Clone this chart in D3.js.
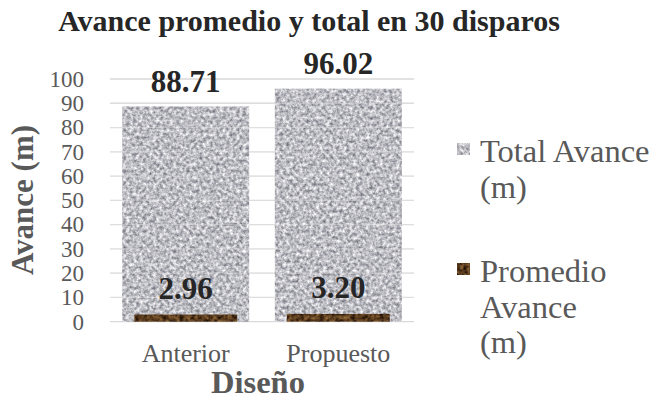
<!DOCTYPE html>
<html>
<head>
<meta charset="utf-8">
<script src="https://cdn.jsdelivr.net/npm/d3@7"></script>
<style>
  html, body { margin: 0; padding: 0; background: #fff; }
  svg { display: block; }
</style>
</head>
<body>
<svg id="chart" width="657" height="409" font-family="Liberation Serif"></svg>
<script>
// Data
const categories = ["Anterior", "Propuesto"];
const totalAvance = [88.71, 96.02];
const promedioAvance = [2.96, 3.20];
const yTicks = [0, 10, 20, 30, 40, 50, 60, 70, 80, 90, 100];
const seriesNames = [["Total Avance", "(m)"], ["Promedio", "Avance", "(m)"]];

const FONT = "Liberation Serif";
const svg = d3.select("#chart");
const plot = { left: 110, right: 414, top: 79, bottom: 321.7 };

// Textures: granite-grey and brown speckle
const defs = svg.append("defs");
function texture(id, freq, seed, rows) {
  const f = defs.append("filter").attr("id", id)
    .attr("x", 0).attr("y", 0).attr("width", 1).attr("height", 1)
    .attr("filterUnits", "objectBoundingBox")
    .attr("color-interpolation-filters", "sRGB");
  f.append("feTurbulence").attr("type", "fractalNoise")
    .attr("baseFrequency", freq).attr("numOctaves", 3).attr("seed", seed).attr("result", "n");
  f.append("feGaussianBlur").attr("in", "n").attr("stdDeviation", 0.5).attr("result", "b");
  f.append("feColorMatrix").attr("in", "b").attr("type", "matrix")
    .attr("values", rows).attr("result", "c");
  f.append("feComposite").attr("in", "c").attr("in2", "SourceGraphic").attr("operator", "in");
}
texture("granite", 0.3, 7,
  "0.8 0 0 0 0.34  0.8 0 0 0 0.34  0.75 0 0 0 0.39  0 0 0 0 1");
texture("bronze", 0.25, 11,
  "0.75 0 0 0 -0.03  0.6 0 0 0 -0.07  0.35 0 0 0 -0.06  0 0 0 0 1");

const x = d3.scaleBand().domain(categories)
  .range([plot.left, plot.right]).paddingInner(0.168).paddingOuter(0.08);
const y = d3.scaleLinear().domain([0, 100]).range([plot.bottom, plot.top]);

// Gridlines
svg.append("g").selectAll("line").data(yTicks).join("line")
  .attr("x1", plot.left).attr("x2", plot.right)
  .attr("y1", d => y(d)).attr("y2", d => y(d))
  .attr("stroke", "#d9d9d9").attr("stroke-width", 1.3);

// Y axis labels
const yAxis = d3.axisLeft(y).tickValues(yTicks).tickSize(0).tickPadding(0).tickFormat(d3.format("d"));
svg.append("g").attr("transform", "translate(84,0)").call(yAxis)
  .attr("font-family", FONT).attr("font-size", 23)
  .call(g => g.select(".domain").remove())
  .call(g => g.selectAll("text").attr("fill", "#595959"));

// Total bars
svg.append("g").selectAll("rect").data(categories).join("rect")
  .attr("x", d => x(d)).attr("width", x.bandwidth())
  .attr("y", (d, i) => y(totalAvance[i]))
  .attr("height", (d, i) => y(0) - y(totalAvance[i]))
  .attr("fill", "#bbb").attr("filter", "url(#granite)");

// Gridlines faintly visible over the bars
svg.append("g").selectAll("line").data(yTicks.slice(1)).join("line")
  .attr("x1", plot.left).attr("x2", plot.right)
  .attr("y1", d => y(d)).attr("y2", d => y(d))
  .attr("stroke", "#e8e8e8").attr("stroke-opacity", 0.4).attr("stroke-width", 1);

// Promedio bars (narrower, in front)
const innerW = x.bandwidth() * 0.81;
svg.append("g").selectAll("rect").data(categories).join("rect")
  .attr("x", d => x(d) + (x.bandwidth() - innerW) / 2).attr("width", innerW)
  .attr("y", (d, i) => y(promedioAvance[i]))
  .attr("height", (d, i) => y(0) - y(promedioAvance[i]))
  .attr("fill", "#532").attr("filter", "url(#bronze)");

// Value labels
const lab = svg.append("g").attr("text-anchor", "middle").attr("font-family", FONT)
  .attr("font-weight", "bold").attr("font-size", 31).attr("fill", "#262626");
lab.selectAll("text.t").data(categories).join("text").attr("class", "t")
  .attr("x", d => x(d) + x.bandwidth() / 2)
  .attr("y", (d, i) => y(totalAvance[i]) - 14.5)
  .text((d, i) => totalAvance[i].toFixed(2));
lab.selectAll("text.p").data(categories).join("text").attr("class", "p")
  .attr("x", d => x(d) + x.bandwidth() / 2)
  .attr("y", (d, i) => y(promedioAvance[i]) - 15.5)
  .text((d, i) => promedioAvance[i].toFixed(2));

// X axis labels
const xAxis = d3.axisBottom(x).tickSize(0).tickPadding(0);
svg.append("g").attr("transform", "translate(0,343)").call(xAxis)
  .attr("font-family", FONT).attr("font-size", 26)
  .call(g => g.select(".domain").remove())
  .call(g => g.selectAll("text").attr("fill", "#595959").attr("dy", "0.72em"));

// Title
svg.append("text").attr("x", 309).attr("y", 31).attr("text-anchor", "middle")
  .attr("font-family", FONT).attr("font-weight", "bold").attr("font-size", 30).attr("fill", "#262626")
  .text("Avance promedio y total en 30 disparos");

// Axis titles
svg.append("text").attr("transform", "translate(33,200) rotate(-90)")
  .attr("text-anchor", "middle").attr("font-family", FONT).attr("font-weight", "bold")
  .attr("font-size", 31).attr("fill", "#595959").text("Avance (m)");
svg.append("text").attr("x", 258).attr("y", 393).attr("text-anchor", "middle")
  .attr("font-family", FONT).attr("font-weight", "bold")
  .attr("font-size", 32.5).attr("fill", "#595959").text("Diseño");

// Legend
const legend = svg.append("g");
const legendItems = [
  { lines: seriesNames[0], y0: 162, fill: "#bbb", filter: "url(#granite)" },
  { lines: seriesNames[1], y0: 282, fill: "#532", filter: "url(#bronze)" }
];
legendItems.forEach(it => {
  legend.append("rect").attr("x", 457).attr("y", it.y0 - 19).attr("width", 13).attr("height", 12)
    .attr("fill", it.fill).attr("filter", it.filter);
  const t = legend.append("text").attr("x", 480).attr("y", it.y0)
    .attr("font-family", FONT).attr("font-size", 32.5).attr("fill", "#595959");
  it.lines.forEach((ln, k) => t.append("tspan").attr("x", 480).attr("dy", k === 0 ? 0 : 35.5).text(ln));
});
</script>
</body>
</html>
